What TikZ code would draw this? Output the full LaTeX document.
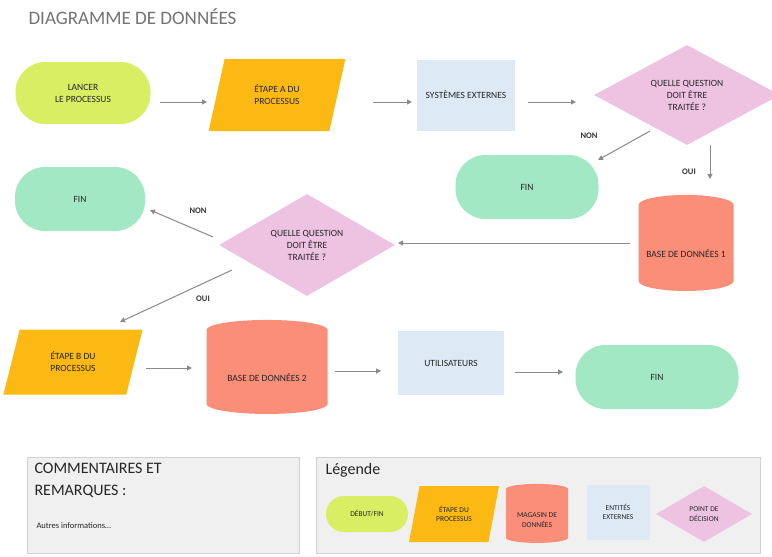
\documentclass[tikz,border=0pt]{standalone}
\usepackage{fontspec}
\setmainfont{Carlito}
\usetikzlibrary{shapes.geometric,arrows.meta}
\definecolor{lime}{HTML}{D9EE62}
\definecolor{orng}{HTML}{FDB913}
\definecolor{lblue}{HTML}{DDE9F5}
\definecolor{pnk}{HTML}{EEC3E2}
\definecolor{grn}{HTML}{A2E8C4}
\definecolor{sal}{HTML}{FA8E78}
\definecolor{arr}{HTML}{8A8A8A}
\begin{document}
\begin{tikzpicture}[x=1pt,y=-1pt,
 txt/.style={font=\fontsize{9.5}{12}\selectfont,align=center,text=black!85},
 stxt/.style={font=\fontsize{7.5}{9.5}\selectfont},
 pill/.style={txt,draw=none,rounded corners=30pt,inner sep=0pt},
 para/.style={txt,trapezium,trapezium left angle=71,trapezium right angle=109,trapezium stretches=true,inner sep=0pt,fill=orng},
 rect/.style={txt,fill=lblue,inner sep=0pt},
 dia/.style={txt,diamond,fill=pnk,inner sep=0pt},
 cyl/.style={txt,cylinder,shape border rotate=90,aspect=0.25,fill=sal,inner sep=0pt,draw=none},
 ar/.style={draw=arr,line width=1pt,-{Triangle[length=5pt,width=5pt]}},
 lab/.style={font=\bfseries\fontsize{8.5}{10}\selectfont,text=black!80},
 box/.style={fill=black!6,draw=black!18}]
\useasboundingbox (0,0) rectangle (772,557);
\node[anchor=west,font=\fontsize{19}{22}\selectfont,text=black!55] (title) at (25,17) {DIAGRAMME DE DONNÉES};
\node[pill,fill=lime,minimum width=135pt,minimum height=62pt] (a) at (83,93) {LANCER\\LE PROCESSUS};
\node[para,minimum width=137pt,minimum height=72pt] (b) at (277,95) {ÉTAPE A DU\\PROCESSUS};
\node[rect,minimum width=98pt,minimum height=71pt] (c) at (466,95) {SYSTÈMES EXTERNES};
\node[dia,minimum width=186pt,minimum height=100pt,aspect=1.9] (d) at (687,95) {QUELLE QUESTION\\DOIT ÊTRE\\TRAITÉE ?};
\node[pill,fill=grn,minimum width=143pt,minimum height=64pt] (e) at (527,187) {FIN};
\node[cyl,minimum width=95pt,minimum height=96pt] (f) at (686,248) {\\[8pt]BASE DE DONNÉES 1};
\node[dia,minimum width=176pt,minimum height=102pt,aspect=1.75] (g) at (307,245) {QUELLE QUESTION\\DOIT ÊTRE\\TRAITÉE ?};
\node[pill,fill=grn,minimum width=130pt,minimum height=64pt] (h) at (80,199) {FIN};
\node[para,minimum width=140pt,minimum height=65pt] (i) at (73,362) {ÉTAPE B DU\\PROCESSUS};
\node[cyl,minimum width=121pt,minimum height=94pt] (j) at (267,372) {\\[8pt]BASE DE DONNÉES 2};
\node[rect,minimum width=106pt,minimum height=64pt] (k) at (451,363) {UTILISATEURS};
\node[pill,fill=grn,minimum width=163pt,minimum height=64pt] (l) at (657,377) {FIN};
\coordinate (a1) at (160,102); \coordinate (a2) at (207,102);
\draw[ar] (a1) -- (a2);
\coordinate (b1) at (373,102); \coordinate (b2) at (412,102);
\draw[ar] (b1) -- (b2);
\coordinate (c1) at (528,102); \coordinate (c2) at (576,102);
\draw[ar] (c1) -- (c2);
\coordinate (d1) at (650,131); \coordinate (d2) at (598,160);
\draw[ar] (d1) -- (d2);
\node[lab] (n1) at (589,136) {NON};
\coordinate (d3) at (710,145); \coordinate (d4) at (710,179);
\draw[ar] (d3) -- (d4);
\node[lab] (o1) at (689,172) {OUI};
\coordinate (f1) at (630,243); \coordinate (f2) at (398,243);
\draw[ar] (f1) -- (f2);
\coordinate (g1) at (213,237); \coordinate (g2) at (150,210);
\draw[ar] (g1) -- (g2);
\node[lab] (n2) at (198,211) {NON};
\coordinate (g3) at (232,270); \coordinate (g4) at (120,322);
\draw[ar] (g3) -- (g4);
\node[lab] (o2) at (203,299) {OUI};
\coordinate (i1) at (146,368); \coordinate (i2) at (192,368);
\draw[ar] (i1) -- (i2);
\coordinate (j1) at (335,371); \coordinate (j2) at (381,371);
\draw[ar] (j1) -- (j2);
\coordinate (k1) at (515,372); \coordinate (k2) at (563,372);
\draw[ar] (k1) -- (k2);
% boxes
\draw[box] (27,457) rectangle (299,553);
\node[anchor=north west,align=left,font=\fontsize{16}{22}\selectfont,text=black!85] (ct) at (31,460) {COMMENTAIRES ET\\REMARQUES :};
\node[anchor=west,font=\fontsize{8.5}{10}\selectfont,text=black!85] (ai) at (33,526) {Autres informations…};
\draw[box] (316,457) rectangle (760,553);
\node[anchor=north west,font=\fontsize{16}{19}\selectfont,text=black!85] (lg) at (322,460) {Légende};
\node[pill,fill=lime,minimum width=82pt,minimum height=36pt,rounded corners=18pt,stxt] (L1) at (367,514) {DÉBUT/FIN};
\node[para,minimum width=90pt,minimum height=56pt,stxt] (L2) at (454,514) {ÉTAPE DU\\PROCESSUS};
\node[cyl,minimum width=62pt,minimum height=59pt,stxt] (L3) at (537,516) {\\[4pt]MAGASIN DE\\DONNÉES};
\node[rect,minimum width=63pt,minimum height=55pt,stxt] (L4) at (618,512) {ENTITÉS\\EXTERNES};
\node[dia,minimum width=96pt,minimum height=56pt,stxt,aspect=1.7] (L5) at (704,514) {POINT DE\\DÉCISION};
\end{tikzpicture}
\end{document}
